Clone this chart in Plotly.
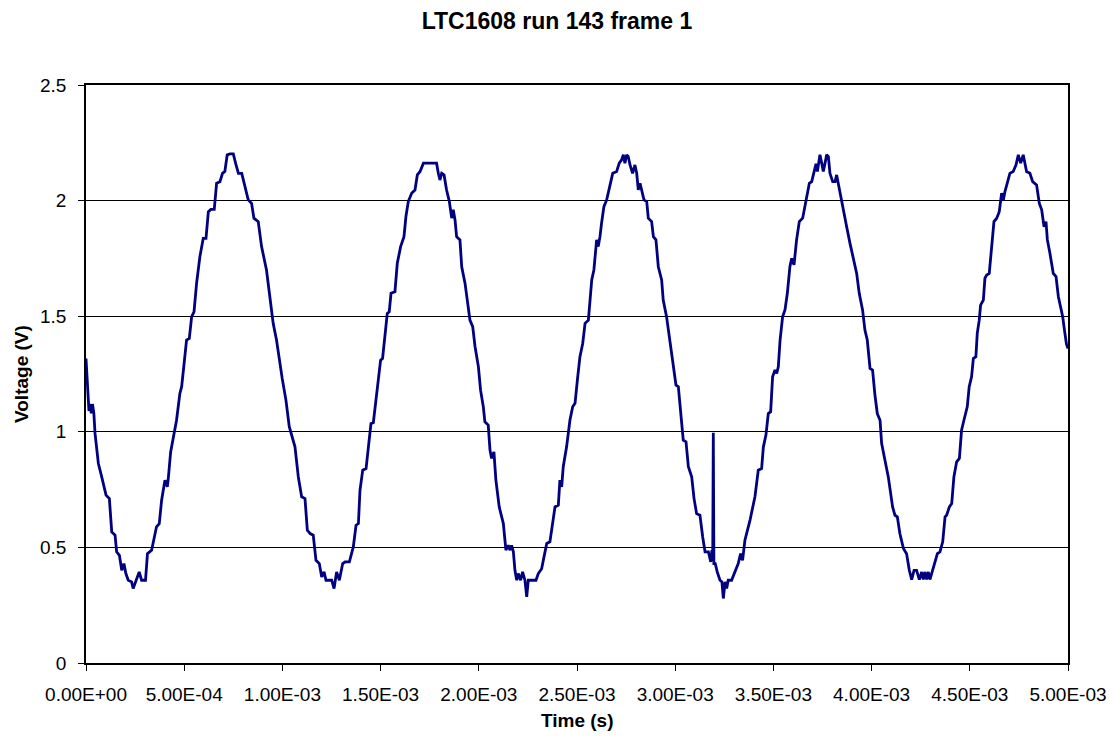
import plotly.graph_objects as go
import numpy as np

title_text = "LTC1608 run 143 frame 1"
x_title = "Time (s)"
y_title = "Voltage (V)"

x_tick_vals = [0, 5e-4, 1e-3, 1.5e-3, 2e-3, 2.5e-3, 3e-3, 3.5e-3, 4e-3, 4.5e-3, 5e-3]
x_tick_text = ["0.00E+00", "5.00E-04", "1.00E-03", "1.50E-03", "2.00E-03", "2.50E-03",
               "3.00E-03", "3.50E-03", "4.00E-03", "4.50E-03", "5.00E-03"]
y_tick_vals = [0, 0.5, 1, 1.5, 2, 2.5]
y_tick_text = ["0", "0.5", "1", "1.5", "2", "2.5"]

# time in microseconds, voltage in volts
time_us = [
    0, 15, 20, 27, 33, 40, 46, 63, 80, 102, 119, 131, 148, 156, 170, 182, 193, 203, 215, 232, 240, 254, 271, 283, 303,
    313, 334, 359, 373, 385, 402, 414, 419, 431, 461, 478, 487, 512, 526, 538, 550, 563, 580, 597, 611, 623, 636, 653,
    665, 682, 695, 707, 719, 733, 750, 764, 776, 793, 804, 826, 843, 855, 877, 894, 919, 936, 953, 970, 982, 999, 1018,
    1035,
    1064, 1081, 1098, 1115, 1127, 1141, 1157, 1171, 1188, 1200, 1212, 1222, 1239, 1251, 1263, 1276, 1290, 1307, 1319,
    1341, 1361, 1375, 1387, 1395, 1409, 1426, 1438, 1451, 1463, 1477, 1488, 1500, 1510, 1522, 1534, 1544, 1553, 1573,
    1585, 1602, 1619, 1629, 1641, 1658, 1675, 1687, 1701, 1718, 1752, 1785, 1794, 1802, 1811, 1823, 1836, 1850, 1862,
    1870, 1879, 1887, 1904, 1913, 1930, 1942, 1955, 1969, 1981, 1998, 2009, 2023, 2031, 2048, 2057, 2065, 2077, 2087,
    2104,
    2125, 2138, 2150, 2159, 2167, 2176, 2184, 2193, 2201, 2213, 2223, 2235, 2244, 2252, 2269, 2291, 2303, 2320, 2332,
    2346, 2362, 2376, 2388, 2405, 2413, 2422, 2430, 2447, 2464, 2478, 2490, 2502, 2515, 2529, 2541, 2558, 2566, 2575,
    2586, 2600, 2608, 2617, 2625, 2637, 2651, 2668, 2682, 2702, 2715, 2727, 2736, 2744, 2753, 2761, 2770, 2783, 2795,
    2804, 2812, 2821, 2829, 2841, 2855, 2863, 2880, 2889, 2902, 2914, 2931, 2939, 2956, 2973, 2987, 3004, 3016, 3028,
    3041, 3055, 3067, 3084, 3096, 3109,
    3126, 3140, 3152, 3169, 3181, 3187, 3191, 3194, 3197, 3204, 3214, 3228, 3238, 3245, 3254, 3262, 3270, 3287, 3305,
    3321, 3333, 3343, 3355, 3381, 3406, 3423, 3440, 3449, 3462, 3474, 3486, 3496, 3508, 3517, 3525, 3534, 3547, 3559,
    3571, 3584, 3593, 3605, 3618, 3632, 3649, 3666, 3683, 3695, 3707, 3717, 3724, 3737, 3746, 3754, 3763, 3771, 3780,
    3788, 3802, 3814, 3822, 3836, 3856, 3873, 3890, 3907, 3924, 3937, 3954, 3966, 3978, 3992, 4005, 4017, 4029, 4043,
    4051, 4068, 4085,
    4107, 4119, 4131, 4144, 4162, 4178, 4192, 4204, 4216, 4229, 4243, 4255, 4263, 4272, 4280, 4289, 4297, 4311, 4323,
    4335, 4348, 4362, 4374, 4382, 4396, 4408, 4419, 4433, 4447, 4458, 4470, 4487, 4497, 4509, 4518, 4531, 4538, 4548,
    4555, 4569, 4577, 4586, 4599, 4611, 4623, 4637, 4650, 4662, 4671, 4679, 4691, 4704, 4721, 4735, 4747, 4759, 4772,
    4781, 4789, 4806, 4820, 4840, 4854, 4866, 4878, 4888, 4895, 4908, 4925, 4939, 4951, 4962, 4973, 4982, 4992, 5000,
]
voltage = [
    1.317, 1.09, 1.12, 1.08, 1.12, 1.08, 0.993, 0.863, 0.805, 0.726, 0.711, 0.567, 0.553, 0.481, 0.466, 0.401, 0.430,
    0.387, 0.358, 0.351, 0.322, 0.358, 0.394, 0.358, 0.358, 0.473, 0.488, 0.589, 0.603, 0.704, 0.791, 0.762, 0.798,
    0.913, 1.05, 1.166, 1.195, 1.397, 1.404, 1.498, 1.519, 1.642, 1.758, 1.837, 1.837, 1.952, 1.962, 1.962, 2.075,
    2.082, 2.118, 2.126, 2.198, 2.202, 2.202, 2.154, 2.118, 2.118, 2.075, 2.003, 1.988, 1.924, 1.909, 1.801, 1.70,
    1.584, 1.469, 1.397, 1.325, 1.231, 1.137, 1.022,
    0.935, 0.805, 0.719, 0.711, 0.574, 0.560, 0.553, 0.444, 0.430, 0.372, 0.394, 0.358, 0.358, 0.358, 0.322, 0.394,
    0.358, 0.430, 0.437, 0.437, 0.502, 0.596, 0.603, 0.747, 0.834, 0.841, 0.935, 1.036, 1.039, 1.152, 1.231, 1.310,
    1.317, 1.411, 1.512, 1.519, 1.599, 1.606, 1.729, 1.801, 1.844, 1.931, 1.996, 2.032, 2.046, 2.111, 2.126, 2.162,
    2.162, 2.162, 2.118, 2.089, 2.118, 2.111, 2.046, 1.996, 1.924, 1.960, 1.916, 1.844, 1.830, 1.714, 1.642, 1.556,
    1.483, 1.455, 1.368, 1.281, 1.180, 1.108, 1.043, 1.029, 0.921, 0.885, 0.913, 0.791, 0.675,
    0.603, 0.488, 0.509, 0.488, 0.509, 0.481, 0.401, 0.358, 0.387, 0.358, 0.394, 0.358, 0.286, 0.358, 0.358, 0.358,
    0.387, 0.408, 0.459, 0.517, 0.524, 0.618, 0.675, 0.683, 0.791, 0.762, 0.849, 0.935, 1.050, 1.108, 1.123, 1.224,
    1.325, 1.382, 1.469, 1.483, 1.570, 1.657, 1.700, 1.830, 1.801, 1.844, 1.902, 1.974, 2.003, 2.075, 2.118, 2.126,
    2.162, 2.176, 2.198, 2.162, 2.198, 2.190, 2.154, 2.118, 2.154, 2.118, 2.046, 2.075, 2.046, 2.003, 1.996, 1.924,
    1.909, 1.844, 1.830, 1.714, 1.657, 1.570, 1.498, 1.397, 1.310, 1.202, 1.195, 1.094, 0.964, 0.957, 0.849, 0.805,
    0.711, 0.646,
    0.639, 0.545, 0.481, 0.481, 0.437, 0.488, 0.44, 0.996, 0.43, 0.430, 0.394, 0.358, 0.351, 0.279, 0.351, 0.322,
    0.358, 0.358, 0.394, 0.430, 0.473, 0.444, 0.531, 0.618, 0.719, 0.834, 0.841, 0.935, 0.986, 1.079, 1.087, 1.238,
    1.267, 1.253, 1.281, 1.397, 1.498, 1.527, 1.599, 1.714, 1.750, 1.722, 1.830, 1.909, 1.924, 1.996, 2.075, 2.082,
    2.126, 2.159, 2.126, 2.198, 2.162, 2.126, 2.162, 2.198, 2.190, 2.118, 2.082, 2.082, 2.111, 2.046, 1.960, 1.887,
    1.815, 1.743, 1.685, 1.599, 1.527, 1.440, 1.397, 1.274, 1.267, 1.159, 1.079, 1.050, 0.950, 0.877, 0.805,
    0.675, 0.639, 0.632, 0.560, 0.495, 0.473, 0.401, 0.361, 0.401, 0.401, 0.361, 0.394, 0.361, 0.394, 0.361, 0.394,
    0.361, 0.401, 0.444, 0.473, 0.481, 0.524, 0.632, 0.639, 0.675, 0.690, 0.805, 0.870, 0.885, 1.007, 1.050, 1.108,
    1.195, 1.238, 1.317, 1.325, 1.426, 1.483, 1.548, 1.570, 1.664, 1.678, 1.685, 1.801, 1.909, 1.924, 1.952, 2.032,
    2.003, 2.039, 2.075, 2.118, 2.126, 2.154, 2.198, 2.162, 2.198, 2.162, 2.126, 2.118, 2.082, 2.068, 1.988, 1.960,
    1.887, 1.909, 1.830, 1.772, 1.685, 1.671, 1.584, 1.541, 1.498, 1.44, 1.38, 1.36,
]

time_s = np.array(time_us) * 1e-6

FONT = "Liberation Sans, Arial, sans-serif"

fig = go.Figure()
fig.add_trace(go.Scatter(
    x=time_s, y=voltage, mode="lines",
    line=dict(color="#000080", width=2.8),
    hoverinfo="x+y",
))

fig.update_layout(
    width=1114, height=738,
    margin=dict(l=86, r=46, t=85, b=75, autoexpand=False),
    paper_bgcolor="white", plot_bgcolor="white",
    showlegend=False,
    font=dict(family=FONT, size=19, color="black"),
    title=dict(text="<b>" + title_text + "</b>", x=0.5, xref="container", xanchor="center",
               y=1 - 21 / 738, yref="container", yanchor="middle",
               font=dict(family=FONT, size=23, color="black")),
    xaxis=dict(range=[0, 0.005], tickvals=x_tick_vals, ticktext=x_tick_text,
               ticks="outside", ticklen=6, tickwidth=1, tickcolor="black",
               showline=True, linecolor="black", linewidth=1.5, mirror=True,
               showgrid=False, zeroline=False, ticklabelstandoff=7, automargin=False,
               tickfont=dict(family=FONT, size=19, color="black")),
    yaxis=dict(range=[0, 2.5], tickvals=y_tick_vals, ticktext=y_tick_text,
               ticks="outside", ticklen=6, tickwidth=1, tickcolor="black",
               showline=True, linecolor="black", linewidth=1.5, mirror=True,
               showgrid=True, gridcolor="black", gridwidth=1, zeroline=False,
               ticklabelstandoff=8, automargin=False,
               tickfont=dict(family=FONT, size=19, color="black")),
    annotations=[
        dict(text="<b>" + x_title + "</b>", xref="paper", yref="paper", x=0.5, y=-(720 - 663) / 578,
             xanchor="center", yanchor="middle", showarrow=False,
             font=dict(family=FONT, size=19, color="black")),
        dict(text="<b>" + y_title + "</b>", xref="paper", yref="paper", x=(21 - 86) / 982, y=0.5,
             xanchor="center", yanchor="middle", textangle=-90, showarrow=False,
             font=dict(family=FONT, size=19, color="black")),
    ],
)

fig.write_html("out.html", config={"displayModeBar": False},
               post_script="document.body.style.margin='0';document.body.style.padding='0';")
